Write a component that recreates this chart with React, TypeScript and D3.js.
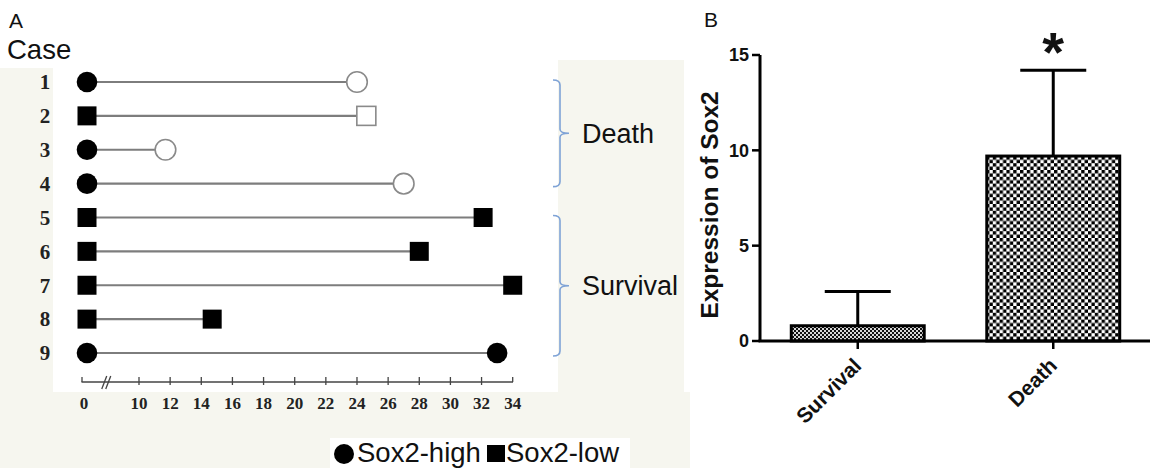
import React from "react";
import * as d3 from "d3";

// ---------- Panel A data ----------
const cases = ["1", "2", "3", "4", "5", "6", "7", "8", "9"];
const followUpMonths = [24, 24.6, 11.7, 27, 32.1, 28, 34, 14.7, 33];
const sox2Level = ["high", "low", "high", "high", "low", "low", "low", "low", "high"];
const outcome = ["death", "death", "death", "death", "survival", "survival", "survival", "survival", "survival"];
const timeTicks = [0, 10, 12, 14, 16, 18, 20, 22, 24, 26, 28, 30, 32, 34];
const groupNames = ["Death", "Survival"];
const groupFirst = ["1", "5"];
const groupLast = ["4", "9"];

// ---------- Panel B data ----------
const barCategories = ["Survival", "Death"];
const barMeans = [0.8, 9.7];
const barErrors = [1.8, 4.5];
const yTicks = [0, 5, 10, 15];

const SANS = "'Liberation Sans', Arial, sans-serif";
const SERIF = "'Liberation Serif', 'Times New Roman', serif";
const BG = "#f6f6ef";

export default function App() {
  // Panel A scales
  const x = d3.scaleLinear().domain([0, 10, 34]).range([85, 139, 512.7]);
  const y = d3.scalePoint<string>().domain(cases).range([82, 353]);

  // Panel B scales
  const by = d3.scaleLinear().domain([0, 15]).range([341, 55]);
  const bx = d3.scaleBand<string>().domain(barCategories).range([760, 1151]).paddingInner(0.32).paddingOuter(0.16);

  const marker = (kind: string, filled: boolean, cx: number, cy: number, key: string) => {
    if (kind === "high") {
      return filled ? (
        <circle key={key} cx={cx} cy={cy} r={10.3} fill="#000" />
      ) : (
        <circle key={key} cx={cx} cy={cy} r={10.3} fill="#fff" stroke="#8a8a8a" strokeWidth={1.6} />
      );
    }
    const s = 19;
    return filled ? (
      <rect key={key} x={cx - s / 2} y={cy - s / 2} width={s} height={s} fill="#000" />
    ) : (
      <rect key={key} x={cx - s / 2} y={cy - s / 2} width={s} height={s} fill="#fff" stroke="#8a8a8a" strokeWidth={1.6} />
    );
  };

  const axisY = 382;

  return (
    <div style={{ position: "fixed", left: 0, top: 0 }}>
      <svg width={1150} height={468} style={{ display: "block", background: "#fff" }}>
        <defs>
          <pattern id="checkBig" width={6.8} height={6.8} patternUnits="userSpaceOnUse">
            <rect width={6.8} height={6.8} fill="#fff" />
            <rect width={3.4} height={3.4} fill="#000" />
            <rect x={3.4} y={3.4} width={3.4} height={3.4} fill="#000" />
          </pattern>
          <pattern id="checkSmall" width={4} height={4} patternUnits="userSpaceOnUse">
            <rect width={4} height={4} fill="#d8d8d8" />
            <rect width={2} height={2} fill="#111" />
            <rect x={2} y={2} width={2} height={2} fill="#111" />
          </pattern>
        </defs>

        {/* light background areas of panel A */}
        <rect x={0} y={68} width={53} height={324} fill={BG} />
        <rect x={0} y={392} width={690} height={76} fill={BG} />
        <rect x={558} y={60} width={126} height={332} fill={BG} />

        {/* ---------------- Panel A ---------------- */}
        <text x={9} y={28} fontFamily={SANS} fontSize={21} fill="#111">A</text>
        <text x={7} y={59} fontFamily={SANS} fontSize={27.5} fill="#111">Case</text>

        {cases.map((c) => (
          <text key={"cl" + c} x={45} y={y(c)!} dy="0.35em" textAnchor="middle" fontFamily={SERIF} fontWeight="bold" fontSize={21} fill="#222">
            {c}
          </text>
        ))}

        {cases.map((c, i) => (
          <line key={"ln" + c} x1={x(0)} x2={x(followUpMonths[i])} y1={y(c)!} y2={y(c)!} stroke="#7d7d7d" strokeWidth={2.2} />
        ))}
        {cases.map((c, i) => marker(sox2Level[i], true, x(0) + 2, y(c)!, "sm" + c))}
        {cases.map((c, i) =>
          marker(sox2Level[i], outcome[i] === "survival", x(followUpMonths[i]), y(c)!, "em" + c)
        )}

        {/* brackets */}
        {groupNames.map((g, i) => {
          const y0 = y(groupFirst[i])! - 2;
          const y1 = y(groupLast[i])! + 3;
          const ym = (y0 + y1) / 2;
          const bxp = 560;
          const d = `M ${bxp - 7} ${y0} Q ${bxp} ${y0} ${bxp} ${y0 + 5} L ${bxp} ${ym - 4} Q ${bxp} ${ym} ${bxp + 9} ${ym} Q ${bxp} ${ym} ${bxp} ${ym + 4} L ${bxp} ${y1 - 5} Q ${bxp} ${y1} ${bxp - 7} ${y1}`;
          return (
            <g key={"br" + g}>
              <path d={d} fill="none" stroke="#7fa3d6" strokeWidth={1.6} />
              <text x={582} y={ym} dy="0.36em" fontFamily={SANS} fontSize={27} fill="#111">{g}</text>
            </g>
          );
        })}

        {/* time axis */}
        <line x1={81.5} x2={513} y1={axisY} y2={axisY} stroke="#444" strokeWidth={1.5} />
        {timeTicks.map((t) => (
          <g key={"tt" + t}>
            <line x1={x(t) - (t === 0 ? 3 : 0)} x2={x(t) - (t === 0 ? 3 : 0)} y1={axisY - 5} y2={axisY + (t === 0 || t === 34 ? 0 : 3)} stroke="#444" strokeWidth={1.3} />
            <text x={x(t) - (t === 0 ? 1 : 0)} y={408.5} textAnchor="middle" fontFamily={SERIF} fontWeight="bold" fontSize={17} fill="#222">
              {t}
            </text>
          </g>
        ))}
        <line x1={x(3.1)} y1={axisY + 7} x2={x(3.1) + 5} y2={axisY - 6} stroke="#444" strokeWidth={1.3} />
        <line x1={x(3.1) + 4} y1={axisY + 7} x2={x(3.1) + 9} y2={axisY - 6} stroke="#444" strokeWidth={1.3} />

        {/* legend */}
        <rect x={330} y={438} width={300} height={30} fill="#fff" />
        <circle cx={344} cy={454} r={10} fill="#000" />
        <text x={357} y={462} fontFamily={SANS} fontSize={27.5} fill="#111">Sox2-high</text>
        <rect x={487} y={445} width={18} height={17} fill="#000" />
        <text x={506} y={462} fontFamily={SANS} fontSize={27.5} fill="#111">Sox2-low</text>

        {/* ---------------- Panel B ---------------- */}
        <text x={704} y={27} fontFamily={SANS} fontSize={21} fill="#111">B</text>

        {/* bars */}
        {barCategories.map((c, i) => (
          <rect
            key={"bar" + c}
            x={bx(c)!}
            y={by(barMeans[i])}
            width={bx.bandwidth()}
            height={by(0) - by(barMeans[i])}
            fill={i === 0 ? "url(#checkSmall)" : "url(#checkBig)"}
            stroke="#000"
            strokeWidth={3}
          />
        ))}
        {/* error bars */}
        {barCategories.map((c, i) => {
          const cx = bx(c)! + bx.bandwidth() / 2;
          return (
            <g key={"err" + c}>
              <line x1={cx} x2={cx} y1={by(barMeans[i])} y2={by(barMeans[i] + barErrors[i])} stroke="#000" strokeWidth={3} />
              <line x1={cx - 33} x2={cx + 33} y1={by(barMeans[i] + barErrors[i])} y2={by(barMeans[i] + barErrors[i])} stroke="#000" strokeWidth={3} />
            </g>
          );
        })}

        {/* y axis */}
        <line x1={760} x2={760} y1={by(15)} y2={by(0)} stroke="#000" strokeWidth={3} />
        {yTicks.map((t) => (
          <g key={"yt" + t}>
            <line x1={752} x2={760} y1={by(t)} y2={by(t)} stroke="#000" strokeWidth={2.5} />
            <text x={749} y={by(t)} dy="0.36em" textAnchor="end" fontFamily={SANS} fontWeight="bold" fontSize={18} fill="#111">
              {t}
            </text>
          </g>
        ))}
        <text
          transform={`translate(718, ${(by(0) + by(15)) / 2 + 7}) rotate(-90)`}
          textAnchor="middle"
          fontFamily={SANS}
          fontWeight="bold"
          fontSize={24.5}
          fill="#111"
        >
          Expression of Sox2
        </text>

        {/* x axis */}
        <line x1={758.5} x2={1150} y1={by(0)} y2={by(0)} stroke="#000" strokeWidth={3} />
        {barCategories.map((c) => {
          const cx = bx(c)! + bx.bandwidth() / 2;
          return (
            <g key={"xt" + c}>
              <line x1={cx} x2={cx} y1={by(0)} y2={by(0) + 8} stroke="#000" strokeWidth={2.5} />
              <text
                transform={`translate(${cx + 5}, ${by(0) + 26}) rotate(-45)`}
                textAnchor="end"
                fontFamily={SANS}
                fontWeight="bold"
                fontSize={21}
                fill="#111"
              >
                {c}
              </text>
            </g>
          );
        })}

        {/* significance star */}
        <text x={bx("Death")! + bx.bandwidth() / 2} y={71} textAnchor="middle" fontFamily={SANS} fontWeight="bold" fontSize={56} fill="#111">
          *
        </text>
      </svg>
    </div>
  );
}
